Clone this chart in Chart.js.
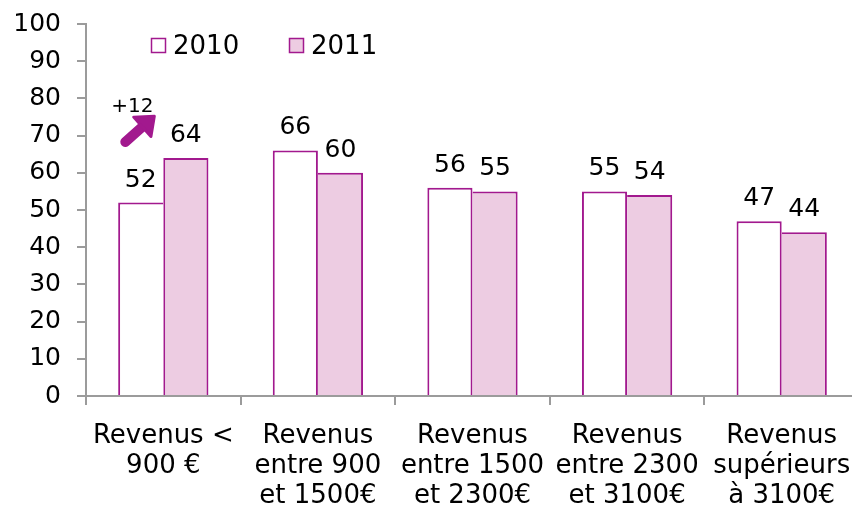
<!DOCTYPE html>
<html>
<head>
<meta charset="utf-8">
<script src="https://cdn.jsdelivr.net/npm/chart.js@4/dist/chart.umd.min.js"></script>
<style>
html,body{margin:0;padding:0;background:#fff;overflow:hidden;width:852px;height:508px;}
#wrap{width:859px;height:508px;}
</style>
</head>
<body>
<div id="wrap"><canvas id="c" width="859" height="508"></canvas></div>
<script>
const categories = [
  ["Revenus <", "900 €"],
  ["Revenus", "entre 900", "et 1500€"],
  ["Revenus", "entre 1500", "et 2300€"],
  ["Revenus", "entre 2300", "et 3100€"],
  ["Revenus", "supérieurs", "à 3100€"]
];
const seriesNames = ["2010", "2011"];
const values2010 = [52, 66, 56, 55, 47];
const values2011 = [64, 60, 55, 54, 44];
const yTicks = [0, 10, 20, 30, 40, 50, 60, 70, 80, 90, 100];

const MAG = "#A2198E";
const PINK = "#EDCCE2";
const AXIS = "#9B9B9B";
const FONT = "'DejaVu Sans', Verdana, sans-serif";

function borderFor(ctx) {
  const i = ctx.dataIndex;
  const own = ctx.datasetIndex === 0 ? values2010 : values2011;
  const other = ctx.datasetIndex === 0 ? values2011 : values2010;
  const keepInner = own[i] >= other[i];
  if (ctx.datasetIndex === 0) {
    return {top: 2, left: 2, right: keepInner ? 2 : 0, bottom: 0};
  }
  return {top: 2, right: 2, left: keepInner ? 2 : 0, bottom: 0};
}

const labelsPlugin = {
  id: 'valueLabels',
  afterDatasetsDraw(chart) {
    const ctx = chart.ctx;
    ctx.save();
    ctx.fillStyle = '#000';
    ctx.font = '25px ' + FONT;
    ctx.textAlign = 'center';
    ctx.textBaseline = 'alphabetic';
    chart.data.datasets.forEach((ds, i) => {
      const meta = chart.getDatasetMeta(i);
      meta.data.forEach((el, j) => {
        ctx.fillText(String(ds.data[j]), el.x, el.y - 16);
      });
    });
    ctx.restore();
  }
};

const legendPlugin = {
  id: 'customLegend',
  afterDraw(chart) {
    const ctx = chart.ctx;
    ctx.save();
    const items = [{x: 151, fill: '#fff'}, {x: 289, fill: PINK}];
    ctx.font = '26px ' + FONT;
    ctx.textBaseline = 'alphabetic';
    ctx.textAlign = 'left';
    items.forEach((it, i) => {
      ctx.fillStyle = it.fill;
      ctx.fillRect(it.x, 38, 15, 15);
      ctx.strokeStyle = MAG;
      ctx.lineWidth = 1.5;
      ctx.strokeRect(it.x + 0.5, 38.5, 14, 14);
      ctx.fillStyle = '#000';
      ctx.fillText(seriesNames[i], it.x + 22, 54);
    });
    ctx.restore();
  }
};

const arrowPlugin = {
  id: 'arrow',
  afterDraw(chart) {
    const ctx = chart.ctx;
    const xs = chart.scales.x, ys = chart.scales.y;
    const cx = xs.getPixelForValue(0);
    const tx = cx - 38, ty = ys.getPixelForValue(68.3);
    const hx = cx - 9, hy = ys.getPixelForValue(75.2);
    const ang = Math.atan2(hy - ty, hx - tx);
    const headLen = 16, headW = 13;
    const bx = hx - Math.cos(ang) * headLen, by = hy - Math.sin(ang) * headLen;
    ctx.save();
    ctx.strokeStyle = MAG;
    ctx.fillStyle = MAG;
    ctx.lineWidth = 10;
    ctx.lineCap = 'round';
    ctx.beginPath();
    ctx.moveTo(tx, ty);
    ctx.lineTo(bx + Math.cos(ang) * 2, by + Math.sin(ang) * 2);
    ctx.stroke();
    ctx.lineJoin = 'round';
    ctx.lineWidth = 3;
    ctx.beginPath();
    ctx.moveTo(hx, hy);
    ctx.lineTo(bx + Math.cos(ang + Math.PI / 2) * headW, by + Math.sin(ang + Math.PI / 2) * headW);
    ctx.lineTo(bx + Math.cos(ang - Math.PI / 2) * headW, by + Math.sin(ang - Math.PI / 2) * headW);
    ctx.closePath();
    ctx.fill();
    ctx.stroke();
    ctx.fillStyle = '#000';
    ctx.font = '20px ' + FONT;
    ctx.textAlign = 'center';
    ctx.fillText('+' + (values2011[0] - values2010[0]), cx - 31, ys.getPixelForValue(76.3));
    ctx.restore();
  }
};

new Chart(document.getElementById('c'), {
  type: 'bar',
  data: {
    labels: categories,
    datasets: [
      {label: seriesNames[0], data: values2010, backgroundColor: '#fff', borderColor: MAG, borderWidth: borderFor},
      {label: seriesNames[1], data: values2011, backgroundColor: PINK, borderColor: MAG, borderWidth: borderFor}
    ]
  },
  options: {
    responsive: false,
    devicePixelRatio: 1,
    animation: false,
    layout: {padding: {top: 24, left: 0, right: 0, bottom: 0}},
    plugins: {legend: {display: false}, tooltip: {enabled: false}, title: {display: false}},
    datasets: {bar: {categoryPercentage: 0.584, barPercentage: 1}},
    scales: {
      x: {
        offset: true,
        grid: {offset: true, drawOnChartArea: false, drawTicks: true, tickLength: 9, color: AXIS, lineWidth: 2},
        border: {display: true, color: AXIS, width: 2},
        ticks: {color: '#000', font: {family: FONT, size: 26, lineHeight: 1.16}, padding: 16, maxRotation: 0, autoSkip: false},
        afterFit(s) { s.height = 112; s.paddingLeft = 0; s.paddingRight = 0; }
      },
      y: {
        min: 0, max: 100,
        afterBuildTicks(s) { s.ticks = yTicks.map(v => ({value: v})); },
        grid: {drawOnChartArea: false, drawTicks: true, tickLength: 9, color: AXIS, lineWidth: 2},
        border: {display: true, color: AXIS, width: 2},
        ticks: {color: '#000', font: {family: FONT, size: 25}, padding: 16},
        afterFit(s) { s.width = 86; s.paddingTop = 0; s.paddingBottom = 0; }
      }
    }
  },
  plugins: [labelsPlugin, legendPlugin, arrowPlugin]
});
</script>
</body>
</html>
